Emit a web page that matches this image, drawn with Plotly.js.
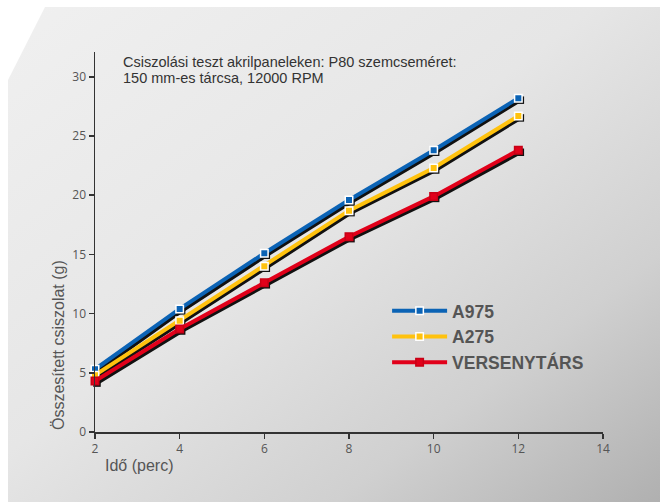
<!DOCTYPE html>
<html><head><meta charset="utf-8">
<script src="https://cdn.plot.ly/plotly-3.0.1.min.js"></script>
<style>
html,body{margin:0;padding:0;background:#fff;}
#bg{position:absolute;left:8px;top:7px;width:652px;height:495px;
background:linear-gradient(to bottom right,#f0f0f0 0%,#e6e6e6 45%,#d0d0d0 75%,#b0b0b0 100%);
clip-path:polygon(37px 0,100% 0,100% 100%,0 100%,0 73px);}
#chart{position:absolute;left:0;top:0;width:660px;height:502px;}
</style></head>
<body><div id="bg"></div><div id="chart"></div>
<script>
const time = [2, 4, 6, 8, 10, 12];
const seriesNames = ["A975", "A275", "VERSENYTÁRS"];
const a975 = [5.3, 10.4, 15.1, 19.6, 23.8, 28.2];
const a275 = [4.8, 9.4, 14.0, 18.7, 22.3, 26.7];
const versenytars = [4.3, 8.7, 12.6, 16.5, 19.9, 23.8];
const xTicks = [2, 4, 6, 8, 10, 12, 14];
const yTicks = [0, 5, 10, 15, 20, 25, 30];
const noteLines = ["Csiszolási teszt akrilpaneleken: P80 szemcseméret:", "150 mm-es tárcsa, 12000 RPM"];

const colors = ["#0b63b5", "#ffc20e", "#e1001a"];
const borders = ["#ffffff", "#ffffff", "#c80015"];
const values = [a975, a275, versenytars];

const L = 95, R = 57, T = 52, B = 70, W = 660, H = 502;
const PW = W - L - R, PH = H - T - B;
const xr = [2, 14], yr = [0, 32.1];
const pxX = PW / (xr[1] - xr[0]);
const pxY = PH / (yr[1] - yr[0]);
const sh = 2;

const traces = [];
values.forEach((v, i) => {
  traces.push({x: time, y: v, xaxis: 'x', yaxis: 'y', mode: 'lines+markers', showlegend: false,
    hoverinfo: 'skip', line: {color: '#111', width: 4},
    marker: {symbol: 'square', size: 7.5, color: '#111', line: {width: 0}}, cliponaxis: false});
});
values.forEach((v, i) => {
  traces.push({x: time, y: v, xaxis: 'x2', yaxis: 'y2', mode: 'lines+markers', name: seriesNames[i],
    line: {color: colors[i], width: 4},
    marker: {symbol: 'square', size: 7.5, color: colors[i], line: {width: 1.5, color: borders[i]}}, cliponaxis: false});
});

const axisFont = {family: 'Open Sans, Liberation Sans, sans-serif', size: 12, color: '#555'};
const txtFont = 'Liberation Sans, Arial, sans-serif';
const layout = {
  width: W, height: H,
  margin: {l: L, r: R, t: T, b: B},
  paper_bgcolor: 'rgba(0,0,0,0)', plot_bgcolor: 'rgba(0,0,0,0)',
  showlegend: true,
  xaxis: {range: [xr[0] - sh / pxX, xr[1] - sh / pxX], visible: false, fixedrange: true},
  yaxis: {range: [yr[0] + sh / pxY, yr[1] + sh / pxY], visible: false, fixedrange: true},
  xaxis2: {range: xr, overlaying: 'x', anchor: 'y2', tickvals: xTicks, ticktext: xTicks.map(String),
    ticks: 'outside', ticklen: 5, tickwidth: 1.5, tickcolor: '#333', showline: true, linecolor: '#333', linewidth: 1.5,
    showgrid: false, zeroline: false, tickfont: axisFont},
  yaxis2: {range: yr, overlaying: 'y', anchor: 'x2', tickvals: yTicks, ticktext: yTicks.map(String),
    ticks: 'outside', ticklen: 5, tickwidth: 1.5, tickcolor: '#333', showline: true, linecolor: '#333', linewidth: 1.5,
    showgrid: false, zeroline: false, tickfont: axisFont},
  legend: {x: 0.575, y: 0.366, xanchor: 'left', yanchor: 'top', bgcolor: 'rgba(0,0,0,0)',
    font: {family: txtFont, size: 17.5, color: '#555', weight: 'bold'},
    itemwidth: 55, tracegroupgap: 0},
  annotations: [
    {xref: 'paper', yref: 'paper', x: 26 / PW, y: 1 - 10 / PH, xanchor: 'left', yanchor: 'middle', align: 'left',
     showarrow: false, text: noteLines[0], font: {family: txtFont, size: 14.5, color: '#333'}},
    {xref: 'paper', yref: 'paper', x: 26 / PW, y: 1 - 26 / PH, xanchor: 'left', yanchor: 'middle', align: 'left',
     showarrow: false, text: noteLines[1], font: {family: txtFont, size: 14.5, color: '#333'}},
    {xref: 'paper', yref: 'paper', x: 8 / PW, y: -23 / PH, xanchor: 'left', yanchor: 'top', showarrow: false,
     text: 'Idő (perc)', font: {family: txtFont, size: 16, color: '#555'}},
    {xref: 'paper', yref: 'paper', x: -37 / PW, y: 0, xanchor: 'center', yanchor: 'bottom', textangle: -90,
     showarrow: false, text: 'Összesített csiszolat (g)', font: {family: txtFont, size: 16, color: '#555'}}
  ]
};
Plotly.newPlot('chart', traces, layout, {displayModeBar: false, staticPlot: true});
</script></body></html>
